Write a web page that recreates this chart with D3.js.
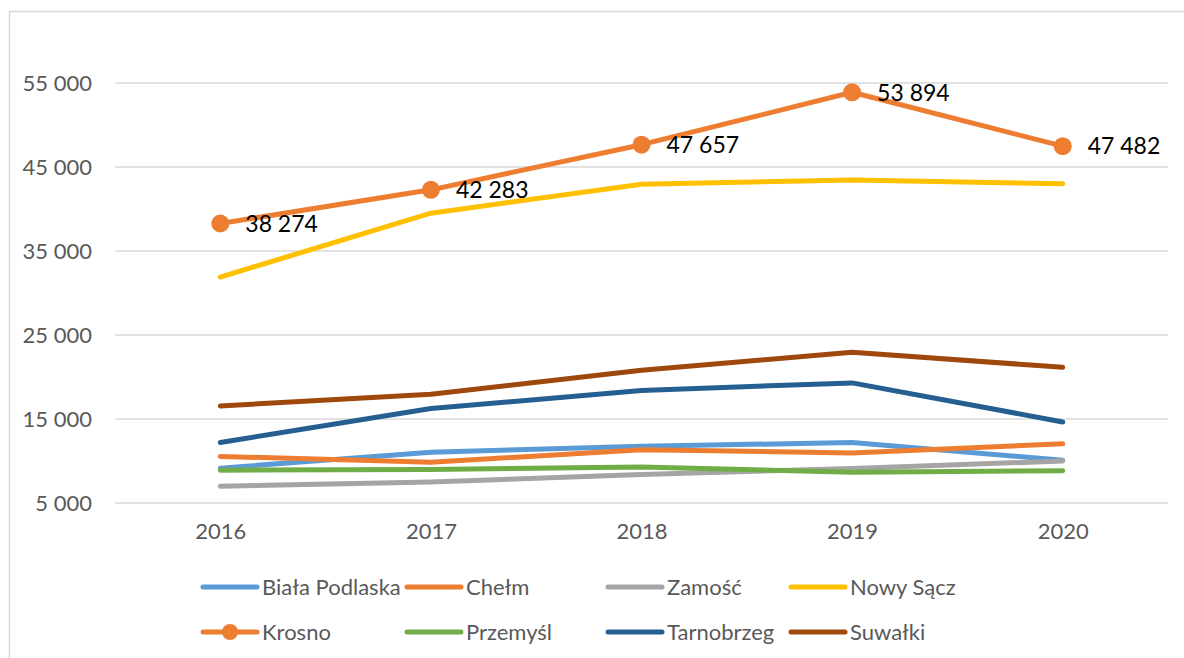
<!DOCTYPE html>
<html>
<head>
<meta charset="utf-8">
<style>
  body { margin: 0; background: #fff; }
  svg { display: block; font-family: Lato, "Open Sans", sans-serif; }
</style>
</head>
<body>
<svg width="1184" height="658"></svg>
<script src="https://d3js.org/d3.v7.min.js"></script>
<script>

// lata i wartości
var years = ["2016", "2017", "2018", "2019", "2020"];
var yTicks = [5000, 15000, 25000, 35000, 45000, 55000];

var bialaPodlaska = [9150, 11050, 11750, 12200, 10100];
var chelm         = [10550, 9850, 11350, 10950, 12050];
var zamosc        = [7000, 7500, 8400, 9100, 10000];
var nowySacz      = [31900, 39500, 42950, 43450, 43000];
var krosno        = [38274, 42283, 47657, 53894, 47482];
var przemysl      = [8900, 9000, 9300, 8650, 8850];
var tarnobrzeg    = [12200, 16250, 18400, 19300, 14650];
var suwalki       = [16550, 17950, 20800, 22950, 21150];

var series = [
  { name: "Biała Podlaska", values: bialaPodlaska, color: "#5B9BD5" },
  { name: "Chełm",          values: chelm,         color: "#ED7D31" },
  { name: "Zamość",         values: zamosc,        color: "#A5A5A5" },
  { name: "Nowy Sącz",      values: nowySacz,      color: "#FFC000" },
  { name: "Krosno",         values: krosno,        color: "#ED7D31", markers: true },
  { name: "Przemyśl",       values: przemysl,      color: "#70AD47" },
  { name: "Tarnobrzeg",     values: tarnobrzeg,    color: "#255E91" },
  { name: "Suwałki",        values: suwalki,       color: "#9E480E" }
];

var svg = d3.select("svg");

// ramka wykresu (tylko lewa i górna krawędź są widoczne)
svg.append("path")
    .attr("d", "M9.5,658 V11.5 H1184")
    .attr("fill", "none")
    .attr("stroke", "#d9d9d9")
    .attr("stroke-width", 1.5);

var x = d3.scalePoint()
    .domain(years)
    .range([115, 1168])
    .padding(0.5);

var y = d3.scaleLinear()
    .domain([5000, 55000])
    .range([503, 83]);

var fmt = function(v) { return d3.format(",d")(v).replace(/,/g, " "); };

// siatka
svg.append("g")
  .selectAll("line")
  .data(yTicks)
  .join("line")
    .attr("x1", 115).attr("x2", 1168)
    .attr("y1", function(d) { return y(d); })
    .attr("y2", function(d) { return y(d); })
    .attr("stroke", "#d9d9d9")
    .attr("stroke-width", 1.5);

// oś Y
var yAxis = svg.append("g")
    .attr("transform", "translate(92,0)")
    .call(d3.axisLeft(y).tickValues(yTicks).tickFormat(fmt).tickSize(0).tickPadding(0));
yAxis.select(".domain").remove();
yAxis.selectAll("text")
    .attr("fill", "#595959")
    .style("font-size", "22px")
    .style("font-family", "Lato, sans-serif");

// oś X
var xAxis = svg.append("g")
    .attr("transform", "translate(0,519)")
    .call(d3.axisBottom(x).tickSize(0).tickPadding(0));
xAxis.select(".domain").remove();
xAxis.selectAll("text")
    .attr("fill", "#595959")
    .attr("dy", "0.9em")
    .style("font-size", "22px")
    .style("font-family", "Lato, sans-serif");

var line = d3.line()
    .x(function(d, i) { return x(years[i]); })
    .y(function(d) { return y(d); });

// linie serii
svg.append("g")
  .selectAll("path")
  .data(series)
  .join("path")
    .attr("d", function(s) { return line(s.values); })
    .attr("fill", "none")
    .attr("stroke", function(s) { return s.color; })
    .attr("stroke-width", 5)
    .attr("stroke-linecap", "round")
    .attr("stroke-linejoin", "round");

// markery i etykiety dla Krosna
var kr = series.filter(function(s) { return s.markers; })[0];
svg.append("g")
  .selectAll("circle")
  .data(kr.values)
  .join("circle")
    .attr("cx", function(d, i) { return x(years[i]); })
    .attr("cy", function(d) { return y(d); })
    .attr("r", 9)
    .attr("fill", kr.color);

svg.append("g")
  .selectAll("text")
  .data(kr.values)
  .join("text")
    .attr("x", function(d, i) { return x(years[i]) + 25; })
    .attr("y", function(d) { return y(d); })
    .attr("dy", "0.36em")
    .attr("fill", "#000")
    .style("font-size", "23px")
    .text(fmt);

// legenda
var legendX = [203, 407, 608, 791];
var legendY = [587, 632];
var leg = svg.append("g")
  .selectAll("g")
  .data(series)
  .join("g")
    .attr("transform", function(s, i) {
      return "translate(" + legendX[i % 4] + "," + legendY[Math.floor(i / 4)] + ")";
    });

leg.append("line")
    .attr("x1", 0).attr("x2", 54)
    .attr("stroke", function(s) { return s.color; })
    .attr("stroke-width", 5)
    .attr("stroke-linecap", "round");

leg.filter(function(s) { return s.markers; })
  .append("circle")
    .attr("cx", 27)
    .attr("r", 8)
    .attr("fill", function(s) { return s.color; });

leg.append("text")
    .attr("x", 59)
    .attr("dy", "0.36em")
    .attr("fill", "#595959")
    .style("font-size", "22px")
    .text(function(s) { return s.name; });

</script>
</body>
</html>
